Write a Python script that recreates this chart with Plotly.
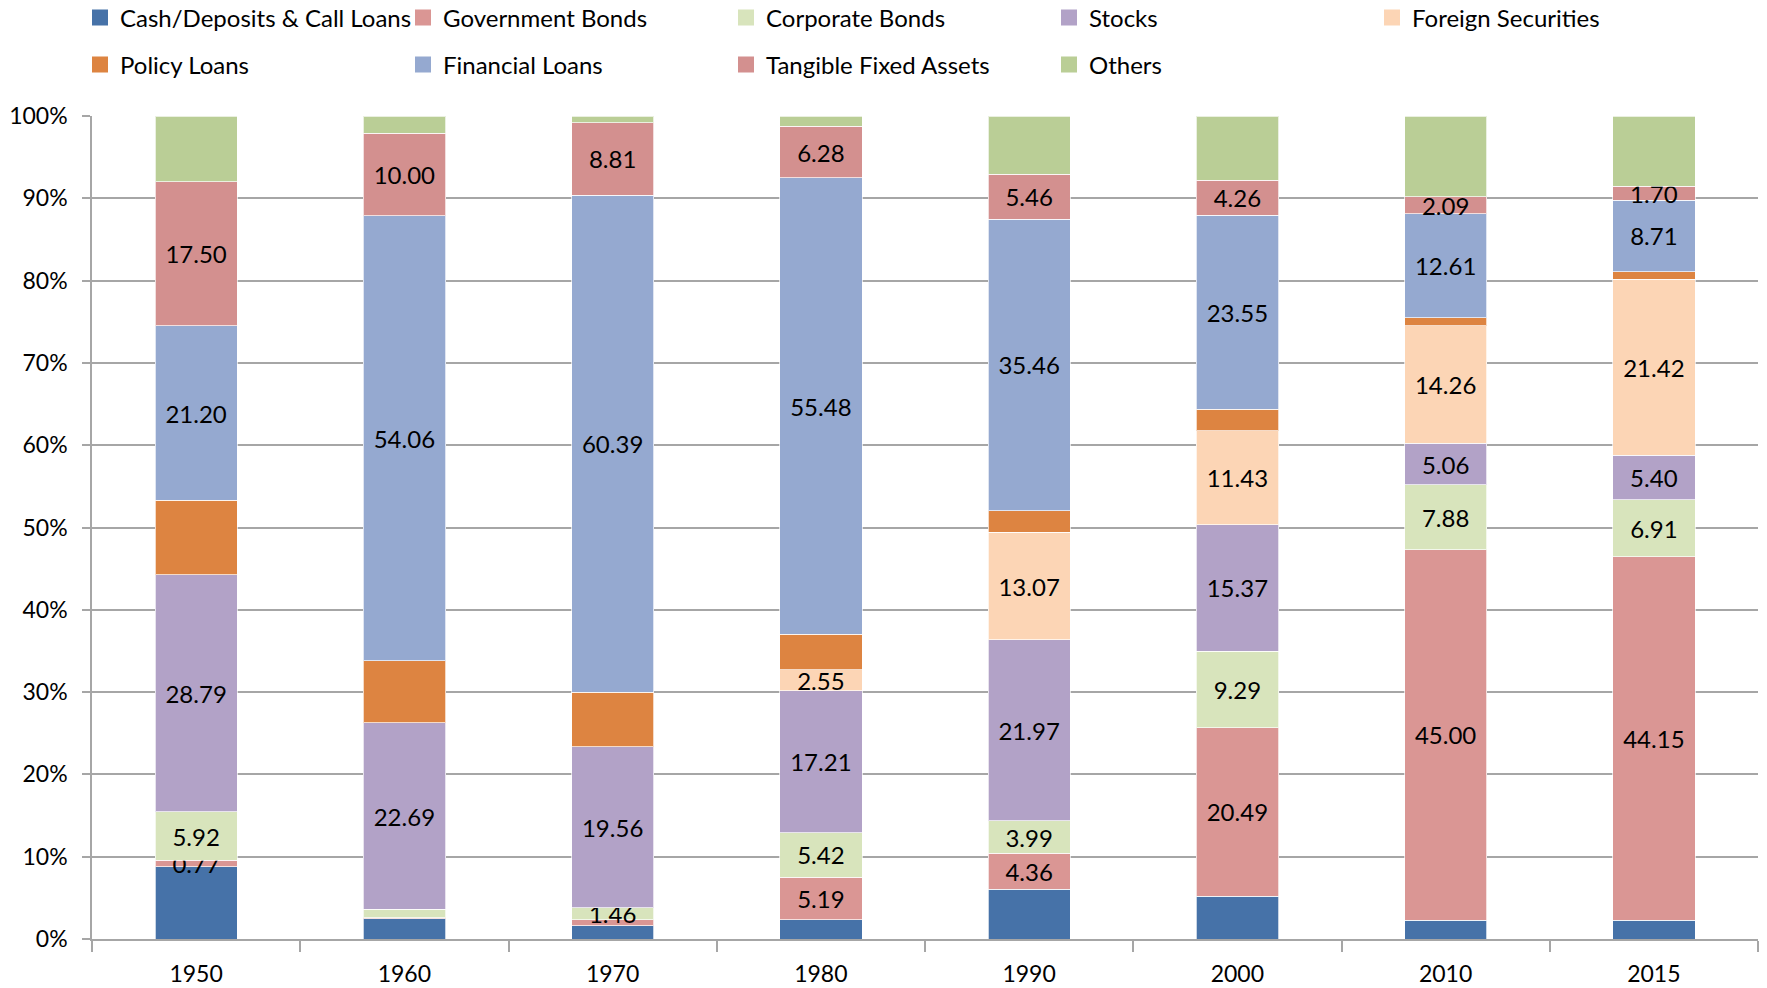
import plotly.graph_objects as go

years = ["1950", "1960", "1970", "1980", "1990", "2000", "2010", "2015"]

cash      = [8.77, 2.45, 1.60, 2.33, 6.03, 5.20, 2.30, 2.30]
gov_bonds = [0.77, 0.15, 0.73, 5.19, 4.36, 20.49, 45.00, 44.15]
corp      = [5.92, 1.00, 1.46, 5.42, 3.99, 9.29, 7.88, 6.91]
stocks    = [28.79, 22.69, 19.56, 17.21, 21.97, 15.37, 5.06, 5.40]
foreign   = [0.00, 0.00, 0.00, 2.55, 13.07, 11.43, 14.26, 21.42]
policy    = [9.05, 7.55, 6.65, 4.30, 2.60, 2.60, 1.00, 0.90]
financial = [21.20, 54.06, 60.39, 55.48, 35.46, 23.55, 12.61, 8.71]
tangible  = [17.50, 10.00, 8.81, 6.28, 5.46, 4.26, 2.09, 1.70]
others    = [8.00, 2.10, 0.80, 1.24, 7.06, 7.81, 9.80, 8.50]

# which segments carry a data label
show_gov     = [1, 0, 0, 1, 1, 1, 1, 1]
show_corp    = [1, 0, 1, 1, 1, 1, 1, 1]
show_stocks  = [1, 1, 1, 1, 1, 1, 1, 1]
show_foreign = [0, 0, 0, 1, 1, 1, 1, 1]
show_fin     = [1, 1, 1, 1, 1, 1, 1, 1]
show_tang    = [1, 1, 1, 1, 1, 1, 1, 1]
no_labels    = [0] * 8

series = [
    ("Cash/Deposits & Call Loans", cash, "#4672A8", no_labels, "legend"),
    ("Government Bonds", gov_bonds, "#DA9694", show_gov, "legend"),
    ("Corporate Bonds", corp, "#D8E4BC", show_corp, "legend"),
    ("Stocks", stocks, "#B2A2C7", show_stocks, "legend"),
    ("Foreign Securities", foreign, "#FCD5B5", show_foreign, "legend"),
    ("Policy Loans", policy, "#DD8441", no_labels, "legend2"),
    ("Financial Loans", financial, "#95A9D0", show_fin, "legend2"),
    ("Tangible Fixed Assets", tangible, "#D3908F", show_tang, "legend2"),
    ("Others", others, "#BACE96", no_labels, "legend2"),
]

FONT = "Lato, 'Liberation Sans', sans-serif"

fig = go.Figure()
for name, vals, color, show, lg in series:
    fig.add_trace(go.Bar(
        x=years, y=vals, name=name, showlegend=False,
        marker=dict(color=color, line=dict(color="rgba(255,255,255,0.7)", width=1)),
        text=[f"{v:.2f}" if s else "" for v, s in zip(vals, show)],
        textposition="inside", insidetextanchor="middle", textangle=0,
        textfont=dict(family=FONT, size=24, color="black"),
        hoverinfo="name+y",
    ))
# legend-only entries with larger square swatches
for name, vals, color, show, lg in series:
    fig.add_trace(go.Scatter(
        x=[None], y=[None], name=name, mode="markers",
        marker=dict(symbol="square", size=16, color=color),
        legend=lg, showlegend=True, hoverinfo="skip",
    ))

legend_common = dict(
    orientation="h", xref="container", yref="container",
    entrywidth=278, entrywidthmode="pixels", itemsizing="trace",
    font=dict(family=FONT, size=24, color="black"),
    traceorder="normal", bgcolor="rgba(0,0,0,0)", itemclick=False,
)

fig.update_layout(
    barmode="stack",
    bargap=0.605,
    width=1767, height=988,
    margin=dict(l=92, r=9, t=116, b=49, autoexpand=False),
    plot_bgcolor="white", paper_bgcolor="white",
    font=dict(family=FONT, size=23, color="black"),
    uniformtext=dict(minsize=24, mode="show"),
    legend=dict(x=80/1767, y=1 - 18/988, yanchor="middle", **legend_common),
    legend2=dict(x=80/1767, y=1 - 65/988, yanchor="middle", **legend_common),
)
fig.update_yaxes(
    range=[0, 100], dtick=10, ticksuffix="%", automargin=False,
    showgrid=True, gridcolor="#A6A6A6", gridwidth=1.5,
    showline=True, linecolor="#A6A6A6", linewidth=1.5,
    ticks="outside", ticklen=8, tickcolor="#A6A6A6", tickwidth=1.5,
    ticklabelstandoff=10,
    tickfont=dict(family=FONT, size=23, color="black"),
    zeroline=False,
)
fig.update_xaxes(
    type="category", automargin=False,
    showline=True, linecolor="#A6A6A6", linewidth=1.5,
    ticks="outside", tickson="boundaries", ticklen=11, tickcolor="#A6A6A6", tickwidth=1.5,
    ticklabelstandoff=14,
    tickfont=dict(family=FONT, size=23, color="black"),
    showgrid=False,
)

fig.write_html("out.html")
